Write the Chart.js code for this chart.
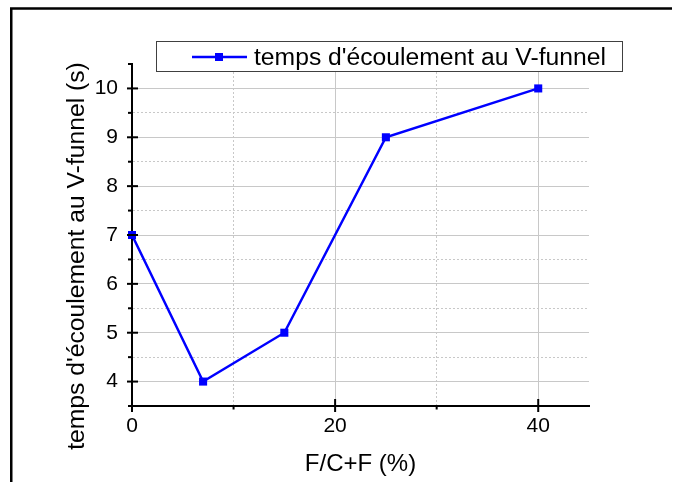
<!DOCTYPE html>
<html><head><meta charset="utf-8">
<script src="https://cdn.jsdelivr.net/npm/chart.js@4/dist/chart.umd.min.js"></script>
<style>html,body{margin:0;padding:0;background:#fff;}canvas{display:block;}</style>
</head><body>
<canvas id="c" width="675" height="482"></canvas>
<script>
const xValues = [0, 7, 15, 25, 40];
const yValues = [7, 4, 5, 9, 10];
const seriesLabel = "temps d'écoulement au V-funnel";
const xTitle = "F/C+F (%)";
const yTitle = "temps d'écoulement au V-funnel (s)";
const xTickLabels = [0, 20, 40];
const yTickLabels = [4, 5, 6, 7, 8, 9, 10];

const FONT = '"Liberation Sans", Arial, sans-serif';
const BLUE = '#0000ff';
const GRID = '#c8c8c8';

const decor = {
  id: 'decor',
  beforeDraw(chart) {
    const c = chart.ctx; c.save(); c.fillStyle = '#fff'; c.fillRect(0, 0, chart.width, chart.height); c.restore();
  },
  afterDraw(chart) {
    const ctx = chart.ctx, xs = chart.scales.x, ys = chart.scales.y, a = chart.chartArea;
    ctx.save();
    // outer frame (top + left)
    ctx.strokeStyle = '#000'; ctx.lineWidth = 2.5;
    ctx.beginPath(); ctx.moveTo(11.25, 482); ctx.lineTo(11.25, 8.5); ctx.lineTo(672, 8.5); ctx.stroke();
    // tick marks
    ctx.lineWidth = 2;
    ys.ticks.forEach(t => {
      const y = ys.getPixelForValue(t.value);
      ctx.beginPath();
      if (Math.abs(t.value - Math.round(t.value)) < 1e-6) { ctx.moveTo(a.left - 5, y); ctx.lineTo(a.left + 6, y); }
      else { ctx.moveTo(a.left - 4, y); ctx.lineTo(a.left, y); }
      ctx.stroke();
    });
    xs.ticks.forEach(t => {
      const x = xs.getPixelForValue(t.value);
      ctx.beginPath();
      if (t.value % 20 === 0) { ctx.moveTo(x, a.bottom - 7); ctx.lineTo(x, a.bottom + 6); }
      else { ctx.moveTo(x, a.bottom); ctx.lineTo(x, a.bottom + 3.5); }
      ctx.stroke();
    });
    // y title
    ctx.save();
    ctx.font = '24.7px ' + FONT; ctx.fillStyle = '#000';
    ctx.translate(84, 256); ctx.rotate(-Math.PI / 2);
    ctx.textAlign = 'center'; ctx.textBaseline = 'alphabetic';
    ctx.fillText(yTitle, 0, 0);
    ctx.restore();
    // legend
    const lbl = chart.data.datasets[0].label;
    ctx.fillStyle = '#fff'; ctx.fillRect(156, 41, 466, 30);
    ctx.strokeStyle = '#404040'; ctx.lineWidth = 1; ctx.strokeRect(156.5, 41.5, 466, 30);
    ctx.strokeStyle = BLUE; ctx.lineWidth = 2.5;
    ctx.beginPath(); ctx.moveTo(192, 57); ctx.lineTo(247, 57); ctx.stroke();
    ctx.fillStyle = BLUE; ctx.fillRect(215, 53, 8, 8);
    ctx.fillStyle = '#000'; ctx.font = '24.7px ' + FONT; ctx.textAlign = 'left'; ctx.textBaseline = 'alphabetic';
    ctx.fillText(lbl, 254, 65);
    ctx.restore();
  }
};

const isInt = v => Math.abs(v - Math.round(v)) < 1e-6;

new Chart(document.getElementById('c'), {
  type: 'line',
  data: {
    datasets: [{
      label: seriesLabel,
      data: xValues.map((x, i) => ({ x: x, y: yValues[i] })),
      borderColor: BLUE, backgroundColor: BLUE, borderWidth: 2.5,
      pointStyle: 'rect', pointRadius: 5.7, pointBorderWidth: 0, pointBackgroundColor: BLUE,
      tension: 0, clip: false
    }]
  },
  options: {
    responsive: false, animation: false, devicePixelRatio: 1,
    layout: { padding: { left: 0, right: 86, top: 64, bottom: 0 } },
    plugins: { legend: { display: false }, tooltip: { enabled: false } },
    scales: {
      x: {
        type: 'linear', min: 0, max: 45,
        afterBuildTicks: s => { s.ticks = s.ticks.filter(t => t.value % 10 === 0); },
        afterFit: s => { s.height = 76; },
        ticks: { stepSize: 10, autoSkip: false, maxRotation: 0, padding: 8, color: '#000', font: { family: FONT, size: 21 },
          callback: v => xTickLabels.includes(v) ? String(v) : '' },
        grid: { drawTicks: false,
          color: c => (c.tick && c.tick.value === 0) ? 'rgba(0,0,0,0)' : GRID, lineWidth: 1 },
        border: { display: true, color: '#000', width: 2,
          dash: c => (c.tick && c.tick.value % 20 !== 0) ? [2, 2] : [] },
        title: { display: true, text: xTitle, color: '#000', font: { family: FONT, size: 24 }, padding: { top: 0, bottom: 3 } }
      },
      y: {
        type: 'linear', min: 3.5, max: 10.5,
        afterFit: s => { s.width = 132; },
        ticks: { stepSize: 0.5, autoSkip: false, padding: 14, color: '#000', font: { family: FONT, size: 21 },
          callback: v => yTickLabels.some(l => Math.abs(l - v) < 1e-6) ? String(Math.round(v)) : '' },
        grid: { drawTicks: false,
          color: c => (c.tick && (Math.abs(c.tick.value - 3.5) < 1e-6 || Math.abs(c.tick.value - 10.5) < 1e-6)) ? 'rgba(0,0,0,0)' : GRID, lineWidth: 1 },
        border: { display: true, color: '#000', width: 2,
          dash: c => (c.tick && !isInt(c.tick.value)) ? [2, 2] : [] },
        title: { display: false }
      }
    }
  },
  plugins: [decor]
});
</script>
</body></html>
